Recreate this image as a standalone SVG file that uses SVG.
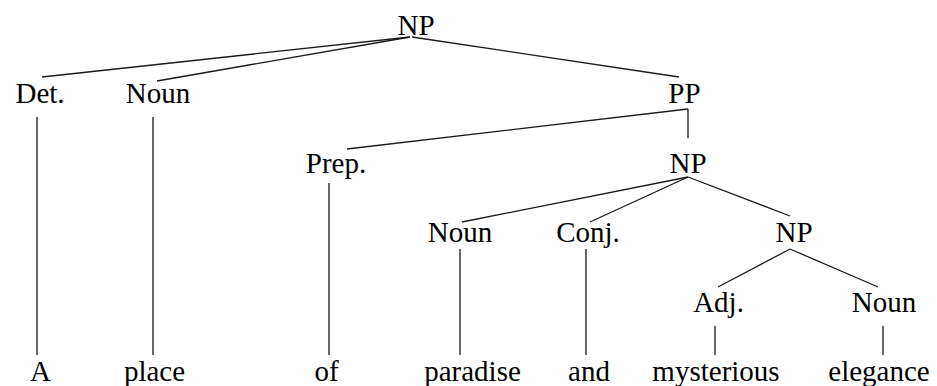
<svg xmlns="http://www.w3.org/2000/svg" width="937" height="386" viewBox="0 0 937 386">
<style>
text{font-family:'Liberation Serif','Times New Roman',serif;font-size:29px;fill:#000;text-anchor:middle}
line{stroke:#1a1a1a;stroke-width:1.3;fill:none}
</style>
<rect width="937" height="386" fill="#fff"/>
<g id="connectors">
<line x1="410" y1="37" x2="42" y2="77"/>
<line x1="410" y1="37" x2="157" y2="81"/>
<line x1="412" y1="37" x2="679" y2="77"/>
<line x1="37" y1="117" x2="37" y2="355"/>
<line x1="153" y1="117" x2="153" y2="355"/>
<line x1="688" y1="109" x2="347" y2="149"/>
<line x1="688" y1="109" x2="688" y2="138"/>
<line x1="329" y1="183" x2="329" y2="355"/>
<line x1="688" y1="177" x2="462" y2="222"/>
<line x1="688" y1="177" x2="590" y2="222"/>
<line x1="688" y1="177" x2="790" y2="216"/>
<line x1="460" y1="249" x2="460" y2="355"/>
<line x1="586" y1="249" x2="586" y2="355"/>
<line x1="790" y1="249" x2="718" y2="287"/>
<line x1="790" y1="249" x2="878" y2="287"/>
<line x1="715" y1="326" x2="715" y2="355"/>
<line x1="883" y1="326" x2="883" y2="355"/>
</g>
<g id="np-root"><text x="416" y="35">NP</text></g>
<g id="det"><text x="40" y="103">Det.</text></g>
<g id="noun1"><text x="158" y="103">Noun</text></g>
<g id="pp"><text x="684.5" y="103">PP</text></g>
<g id="prep"><text x="336" y="173">Prep.</text></g>
<g id="np2"><text x="688" y="173">NP</text></g>
<g id="noun2"><text x="460" y="242">Noun</text></g>
<g id="conj"><text x="588" y="242">Conj.</text></g>
<g id="np3"><text x="794" y="242">NP</text></g>
<g id="adj"><text x="718.5" y="312">Adj.</text></g>
<g id="noun3"><text x="884" y="312">Noun</text></g>
<g id="w-a"><text x="40.5" y="381">A</text></g>
<g id="w-place"><text x="154.5" y="381">place</text></g>
<g id="w-of"><text x="326.5" y="381">of</text></g>
<g id="w-paradise"><text x="472.5" y="381">paradise</text></g>
<g id="w-and"><text x="589" y="381">and</text></g>
<g id="w-mysterious"><text x="716" y="381">mysterious</text></g>
<g id="w-elegance"><text x="879" y="381">elegance</text></g>
</svg>
